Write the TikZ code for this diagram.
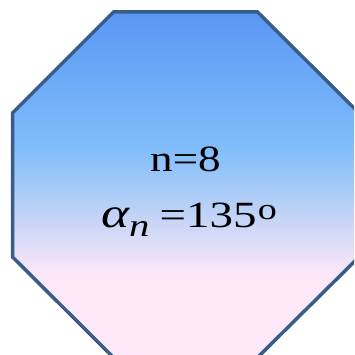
\documentclass[tikz,border=0pt]{standalone}
\usepackage{fontspec}
\setmainfont{Liberation Serif}
\usepackage{graphicx}
\definecolor{topc}{RGB}{88,152,245}
\definecolor{midc}{RGB}{130,190,250}
\definecolor{lavc}{RGB}{190,210,246}
\definecolor{pinkc}{RGB}{253,232,248}
\definecolor{edgec}{RGB}{58,92,136}
\pgfdeclareverticalshading{octshade}{100bp}{color(0bp)=(pinkc); color(37bp)=(pinkc); color(46bp)=(lavc); color(55bp)=(midc); color(75bp)=(topc); color(100bp)=(topc)}
\begin{document}
\begin{tikzpicture}[x=1pt,y=1pt,
  octa/.style={draw=edgec, line width=3.5pt, line join=miter, shading=octshade},
  lbl/.style={anchor=base, inner sep=0pt, font=\fontsize{37}{42}\selectfont}]
\useasboundingbox (0,0) rectangle (354,355);
\clip (0,0) rectangle (354,355);
\path[octa] (113.5,343) -- (257.5,343) -- (359,242) -- (359,98)
  -- (257.5,-2.5) -- (113.5,-2.5) -- (12.5,98) -- (12.5,242) -- cycle;
\node[lbl] (line1) at (185.5,183) {\scalebox{1.22}[1]{n=8}};
\node[lbl] (line2) at (189,127) {\scalebox{1.27}[1]{{\fontsize{42}{44}\selectfont\itshape α}\raisebox{-9pt}{\fontsize{32}{34}\selectfont\itshape n}\hspace{8pt}=135\hspace{1pt}\raisebox{8pt}{\fontsize{30}{30}\selectfont o}}};
\end{tikzpicture}
\end{document}
